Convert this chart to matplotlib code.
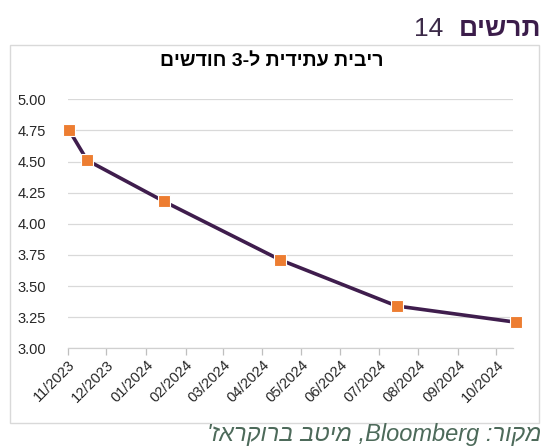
import matplotlib
matplotlib.use("Agg")
import matplotlib.pyplot as plt
import matplotlib.dates as mdates
from matplotlib.patches import Rectangle
import pandas as pd

plt.rcParams['font.family'] = ['Liberation Sans', 'DejaVu Sans']

# data (dates of each point, 3-month futures rate)
dates = ["2023-11-02", "2023-11-16", "2024-01-15", "2024-04-15", "2024-07-15", "2024-10-16"]
rates = [4.75, 4.51, 4.18, 3.71, 3.34, 3.21]
month_ticks = pd.date_range("2023-11-01", "2024-10-01", freq="MS")
y_ticks = [3.00, 3.25, 3.50, 3.75, 4.00, 4.25, 4.50, 4.75, 5.00]

# hebrew strings in visual (left to right) order
header_word = "םישרת"
header_num = "14"
title = "םישדוח 3-ל תידיתע תיביר"
source = "'זארקורב בטימ ,Bloomberg :רוקמ"

W, H = 543, 446
fig = plt.figure(figsize=(W / 100, H / 100), dpi=100)
ax = fig.add_axes([68 / W, 1 - 348.3 / H, (513 - 68) / W, (348.3 - 99.3) / H])

x = pd.to_datetime(dates)
ax.plot(x, rates, color="#3f1d4d", linewidth=2.6, marker="s", markersize=9,
        markerfacecolor="#ed7d31", markeredgecolor="white", markeredgewidth=0.8,
        clip_on=False, zorder=3)

ax.set_xlim(pd.Timestamp("2023-11-01"), pd.Timestamp("2024-10-14"))
ax.set_ylim(3.0, 5.0)
ax.set_yticks(y_ticks)
ax.set_yticklabels([f"{v:.2f}" for v in y_ticks])
ax.set_xticks(month_ticks)
ax.xaxis.set_major_formatter(mdates.DateFormatter("%m/%Y"))

ax.grid(axis="y", color="#d9d9d9", linewidth=0.9)
ax.set_axisbelow(True)
for s in ["top", "right", "left"]:
    ax.spines[s].set_visible(False)
ax.spines["bottom"].set_color("#d0d0d0")
ax.spines["bottom"].set_linewidth(0.9)

ax.tick_params(axis="y", length=0, pad=16, labelsize=10.5, labelcolor="#262626")
ax.tick_params(axis="x", length=5, width=0.9, color="#bfbfbf", pad=2,
               labelsize=10.5, labelcolor="#262626")
for lbl in ax.get_xticklabels():
    lbl.set_rotation(45)
    lbl.set_ha("right")
    lbl.set_rotation_mode("anchor")

# chart frame
fig.patches.append(Rectangle((10 / W, 1 - 423 / H), 529 / W, 378 / H,
                             transform=fig.transFigure, fill=False,
                             edgecolor="#d9d9d9", linewidth=1.0))

fig.text(272 / W, 1 - 61 / H, title, ha="center", va="center",
         fontsize=14, fontweight="bold", color="black")

# header: "chart 14"
hw = fig.text(541 / W, 1 - 29 / H, header_word, ha="right", va="center",
              fontsize=19, fontweight="bold", color="#3b1c4a")
fig.canvas.draw()
bb = hw.get_window_extent()
fig.text((bb.x0 - 15) / W, 1 - 29 / H, header_num, ha="right", va="center",
         fontsize=19, color="#3b2a48")

fig.text(541 / W, 1 - 434 / H, source, ha="right", va="center",
         fontsize=17, style="italic", color="#4d6a5a")

plt.savefig("out.png", dpi=100)
